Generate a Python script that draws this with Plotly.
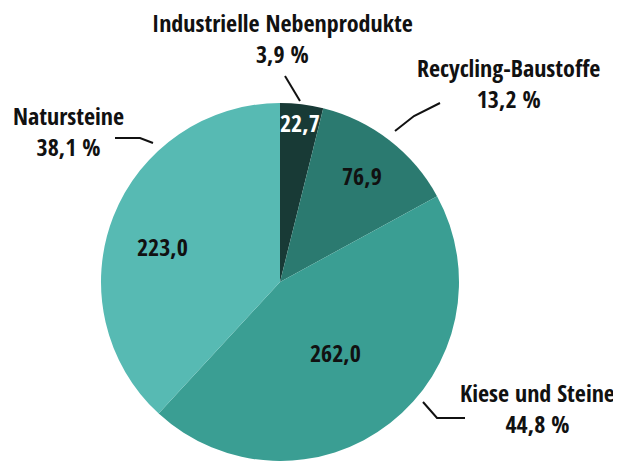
import math
import plotly.graph_objects as go

# ---- data ----
categories = ["Industrielle Nebenprodukte", "Recycling-Baustoffe", "Kiese und Steine", "Natursteine"]
values = [22.7, 76.9, 262.0, 223.0]
value_labels = ["22,7", "76,9", "262,0", "223,0"]
percent_labels = ["3,9 %", "13,2 %", "44,8 %", "38,1 %"]

# ---- style ----
colors = ["#183a36", "#2b7a70", "#3a9e93", "#57bab3"]
inside_text_colors = ["#ffffff", "#111111", "#111111", "#111111"]
FONT = "Open Sans Condensed, Roboto Condensed, sans-serif"
OFF = 8                      # browser body margin
W, H = 621 - OFF, 461 - OFF  # figure size actually visible
CX, CY, R = 280, 282, 179    # pie centre / radius in screen pixels


def px(x):
    return (x - OFF) / W


def py(y):
    return 1 - (y - OFF) / H


fig = go.Figure(go.Pie(
    labels=categories,
    values=values,
    sort=False,
    direction="clockwise",
    rotation=0,
    marker=dict(colors=colors, line=dict(width=0)),
    textinfo="none",
    hoverinfo="label+value+percent",
    domain=dict(x=[px(CX - R), px(CX + R)], y=[max(0, py(CY + R)), py(CY - R)]),
    showlegend=False,
))

# inside value labels placed near slice mid-angles
radial_frac = [0.90, 0.75, 0.50, 0.686]
angle_shift_deg = [0, 0, 0, -4.5]
total = sum(values)
annotations = []
cum = 0.0
for v, lab, col, rf, sh in zip(values, value_labels, inside_text_colors, radial_frac, angle_shift_deg):
    mid = (cum + v / 2) / total * 2 * math.pi + math.radians(sh)
    cum += v
    x = CX + R * rf * math.sin(mid)
    y = CY - R * rf * math.cos(mid)
    annotations.append(dict(
        x=px(x), y=py(y), xref="paper", yref="paper", text=lab, showarrow=False,
        font=dict(family=FONT, size=24, color=col, weight="bold"),
        xanchor="center", yanchor="middle",
    ))

# outside labels (category + percentage)
outside_pos = [(282, 38), (508, 83), (537, 408), (68, 131)]
for cat, pct, (x, y) in zip(categories, percent_labels, outside_pos):
    annotations.append(dict(
        x=px(x), y=py(y), xref="paper", yref="paper",
        text=f"{cat}<br>{pct}", showarrow=False,
        font=dict(family=FONT, size=24, color="#111111", weight="bold"),
        xanchor="center", yanchor="middle", align="center",
    ))

# leader lines
leaders = [
    [(300, 101), (285, 76)],
    [(395, 131), (414, 116), (440, 103)],
    [(423, 402), (437, 418), (465, 418)],
    [(153, 143), (140, 138), (115, 138)],
]
shapes = []
for pts in leaders:
    path = "M " + " L ".join(f"{px(x)},{py(y)}" for x, y in pts)
    shapes.append(dict(type="path", path=path, xref="paper", yref="paper",
                       line=dict(color="#111111", width=2)))

fig.update_layout(
    width=W, height=H,
    margin=dict(l=0, r=0, t=0, b=0),
    paper_bgcolor="white", plot_bgcolor="white",
    annotations=annotations, shapes=shapes,
)

fig.write_html("out.html")
